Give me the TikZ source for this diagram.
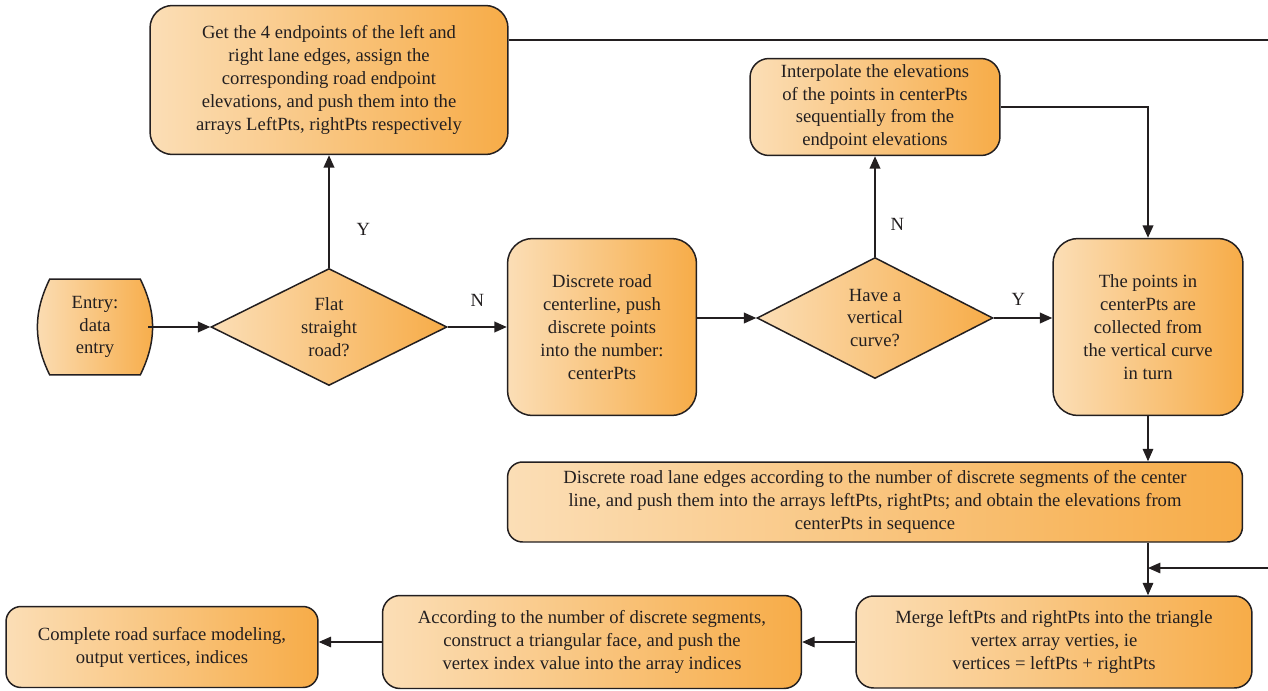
\documentclass[tikz,border=0pt]{standalone}
\usepackage{fontspec}
\setmainfont{Liberation Serif}
\usetikzlibrary{arrows.meta,positioning,shapes.geometric}
\definecolor{orlight}{RGB}{251,222,182}
\definecolor{ordark}{RGB}{247,172,72}
\definecolor{inkline}{RGB}{35,31,32}

\begin{document}
\begin{tikzpicture}[x=0.02cm, y=-0.02cm,
    box/.style={draw=inkline, line width=0.85pt, rounded corners=0.45cm,
                left color=orlight, right color=ordark, align=center,
                font=\fontsize{10.6}{13}\selectfont, text=inkline, inner sep=2pt},
    dec/.style={diamond, draw=inkline, line width=0.85pt, left color=orlight,
                right color=ordark, align=center, inner sep=0pt,
                font=\fontsize{10.6}{13}\selectfont, text=inkline},
    arr/.style={-{Triangle[length=7pt,width=6pt]}, line width=1pt, inkline},
    thinarr/.style={-{Triangle[length=7pt,width=6pt]}, line width=0.6pt, inkline},
    lbl/.style={font=\fontsize{10.6}{12}\selectfont, text=inkline, inner sep=1pt}
]
\useasboundingbox (0,0) rectangle (1268,690);

% top row
\node[box, minimum width=7.16cm, minimum height=2.98cm] (getends) at (329,80)
    {Get the 4 endpoints of the left and\\right lane edges, assign the\\corresponding road endpoint\\elevations, and push them into the\\arrays LeftPts, rightPts respectively};
\node[box, rounded corners=0.38cm, minimum width=5cm, minimum height=1.94cm] (interp) at (875,107)
    {Interpolate the elevations\\of the points in centerPts\\sequentially from the\\endpoint elevations};

% middle row
\node[minimum width=1.8cm, minimum height=1.9cm, inner sep=0pt] (entry) at (95,327) {};
\path[draw=inkline, line width=0.85pt, left color=orlight, right color=ordark]
    (entry.north west) to[bend right=26] (entry.south west)
    -- (entry.south east) to[bend right=26] (entry.north east) -- cycle;
\node[align=center, font=\fontsize{10.6}{13}\selectfont, text=inkline] at (entry) {Entry:\\data\\entry};
\node[dec, minimum width=4.72cm, minimum height=2.34cm] (flat) at (329,327) {Flat\\straight\\road?};
\node[box, rounded corners=0.5cm, minimum width=3.78cm, minimum height=3.54cm] (discrete) at (602,327)
    {Discrete road\\centerline, push\\discrete points\\into the number:\\centerPts};
\node[dec, minimum width=4.72cm, minimum height=2.42cm] (vcurve) at (875,318) {Have a\\vertical\\curve?};
\node[box, rounded corners=0.5cm, minimum width=3.8cm, minimum height=3.54cm] (collect) at (1148,327)
    {The points in\\centerPts are\\collected from\\the vertical curve\\in turn};

% lower rows
\node[box, rounded corners=0.3cm, minimum width=14.7cm, minimum height=1.6cm] (lanes) at (875,502)
    {Discrete road lane edges according to the number of discrete segments of the center\\line, and push them into the arrays leftPts, rightPts; and obtain the elevations from\\centerPts in sequence};
\node[box, rounded corners=0.35cm, minimum width=7.92cm, minimum height=1.84cm] (merge) at (1054,642)
    {Merge leftPts and rightPts into the triangle\\vertex array verties, ie\\vertices = leftPts + rightPts};
\node[box, rounded corners=0.35cm, minimum width=8.38cm, minimum height=1.86cm] (accord) at (592,642)
    {According to the number of discrete segments,\\construct a triangular face, and push the\\vertex index value into the array indices};
\node[box, rounded corners=0.3cm, minimum width=6.24cm, minimum height=1.62cm] (finish) at (162,647)
    {Complete road surface modeling,\\output vertices, indices};

% loose ends at the right edge
\coordinate (topend) at (1268,40);
\coordinate (loopin) at (1268,568);

% connectors
\draw[arr] (entry.east) ++(8,0) -- (flat.west);
\draw[arr] (flat.north) -- node[lbl, pos=0.34, right=0.5cm] {Y} (getends.south);
\draw[arr] (flat) -- node[lbl, above=0.36cm] {N} (discrete);
\draw[line width=1pt, inkline] (topend -| getends.east) -- (topend);
\draw[arr] (vcurve.west -| discrete.east) -- (vcurve.west);
\draw[arr] (vcurve.north) -- node[lbl, pos=0.32, right=0.26cm] {N} (interp.south);
\draw[arr] (vcurve.east) -- node[lbl, pos=0.42, above=0.2cm] {Y} (vcurve.east -| collect.west);
\draw[arr] (interp.east) -| (collect.north);
\draw[thinarr] (collect.south) -- (collect.south |- lanes.north);
\draw[thinarr] (collect.south |- lanes.south) -- (collect.south |- merge.north);
\draw[thinarr] (loopin) -- (loopin -| collect.south);
\draw[thinarr] (merge.west) -- (accord.east);
\draw[thinarr] (accord.west) -- (accord.west -| finish.east);
\end{tikzpicture}
\end{document}
